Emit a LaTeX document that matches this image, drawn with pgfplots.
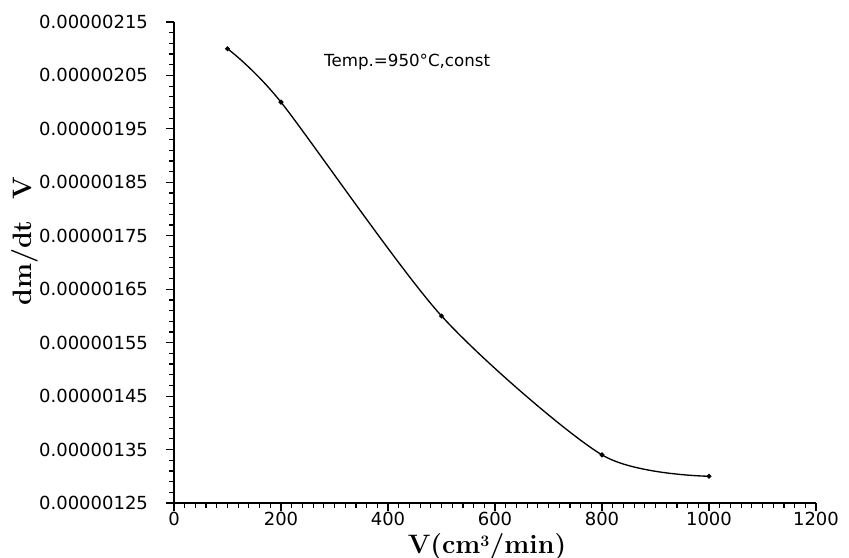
\documentclass[border=0pt]{standalone}
\usepackage{fontspec}
\usepackage{pgfplots}
\pgfplotsset{compat=1.18}
\newfontfamily\tickfont{DejaVu Sans}
\begin{document}
\begin{tikzpicture}
\begin{axis}[
  at={(0,0)}, anchor=south west,
  scale only axis,
  width=481.5pt, height=360.75pt,
  xmin=0, xmax=1200,
  ymin=1.25e-6, ymax=2.15e-6,
  axis x line=bottom, axis y line=left,
  axis line style={-, line width=1.1pt},
  xtick={0,200,400,600,800,1000,1200},
  minor x tick num=9,
  ytick={1.25e-6,1.35e-6,1.45e-6,1.55e-6,1.65e-6,1.75e-6,1.85e-6,1.95e-6,2.05e-6,2.15e-6},
  yticklabels={0.00000125,0.00000135,0.00000145,0.00000155,0.00000165,0.00000175,0.00000185,0.00000195,0.00000205,0.00000215},
  minor y tick num=4,
  scaled y ticks=false,
  tick align=outside,
  major tick length=6pt, minor tick length=3.5pt,
  every tick/.style={line width=0.9pt, black},
  /pgf/number format/assume math mode=true,
  /pgf/number format/set thousands separator={},
  tick label style={font=\tickfont\fontsize{13.5}{15}\selectfont},
  yticklabel style={anchor=east, xshift=-10pt},
  xticklabel style={anchor=north, yshift=0pt, inner sep=1pt},
  every axis y label/.style={at={(axis description cs:-0.232,0.545)}, rotate=90, anchor=center},
  every axis x label/.style={at={(axis description cs:0.4875,-0.091)}, anchor=center, inner sep=0pt},
  ylabel={\fontsize{20}{24}\selectfont\bfseries dm/dt\hspace{0.8em}V},
  xlabel={\fontsize{20}{24}\selectfont\bfseries V(cm\raisebox{0.55ex}{\fontsize{12}{12}\selectfont 3}/min)},
  clip=false,
]
\addplot[black, line width=1pt, smooth, tension=0.45, mark=*, mark size=1.3pt] coordinates {
  (100,2.10e-6) (200,2.00e-6) (500,1.60e-6) (800,1.34e-6) (1000,1.30e-6)
};
\node[anchor=west, font=\tickfont\fontsize{12.5}{14}\selectfont] at (axis cs:272,2.0755e-6) {Temp.=950°C,const};
\end{axis}
\pgfresetboundingbox
\useasboundingbox (-130.5pt,-40.5pt) rectangle (506.25pt,377.25pt);
\end{tikzpicture}
\end{document}
